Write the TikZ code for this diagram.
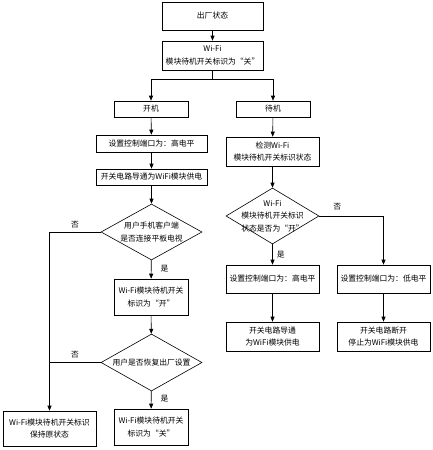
\documentclass[tikz,border=0pt]{standalone}
\usepackage{fontspec}
\setmainfont{Noto Sans CJK SC}
\usetikzlibrary{shapes.geometric,arrows.meta}
\begin{document}
\begin{tikzpicture}[x=1pt,y=-1pt,
  font=\fontsize{7.8pt}{12.5pt}\selectfont,
  box/.style={draw, line width=0.6pt, inner sep=1pt, align=center},
  dec/.style={draw, diamond, line width=0.6pt, inner sep=0pt, minimum width=#1},
  txt/.style={inner sep=0pt, align=center},
  arr/.style={-{Triangle[length=5pt,width=4pt]}, line width=0.6pt},
  ln/.style={line width=0.6pt},
  lab/.style={inner sep=0pt}]
\useasboundingbox (0,0) rectangle (433,450);
% left / top column
\node[box, minimum width=101pt, minimum height=28pt] (n1) at (212.5,16) {出厂状态};
\node[box, minimum width=101pt, minimum height=29pt] (n2) at (212.5,55.5) {Wi-Fi\\模块待机开关标识为“关”};
\node[box, minimum width=74pt, minimum height=16pt] (n3) at (151,109) {开机};
\node[box, minimum width=74pt, minimum height=16pt] (n4) at (273,109) {待机};
\node[box, minimum width=111pt, minimum height=17pt] (n5) at (151.5,143.5) {设置控制端口为：高电平};
\node[box, minimum width=111pt, minimum height=16pt] (n6) at (151.5,177) {开关电路导通为WiFi模块供电};
\node[dec=101pt, minimum height=56pt] (d1) at (151.5,232) {};
\node[txt] (t1) at (d1) {用户手机客户端\\是否连接平板电视};
\node[box, minimum width=74pt, minimum height=36pt] (n7) at (151,297) {Wi-Fi模块待机开关\\标识为“开”};
\node[dec=101pt, minimum height=57pt] (d2) at (151.5,362.5) {};
\node[txt] (t2) at (d2) {用户是否恢复出厂设置};
\node[box, minimum width=74pt, minimum height=36pt] (n8) at (151,427) {Wi-Fi模块待机开关\\标识为“关”};
\node[box, minimum width=93pt, minimum height=35pt] (n9) at (49.5,428.5) {Wi-Fi模块待机开关标识\\保持原状态};
% right column
\node[box, minimum width=93pt, minimum height=29pt] (n10) at (272.5,151.5) {检测Wi-Fi\\模块待机开关标识状态};
\node[dec=93pt, minimum height=56pt] (d3) at (272.5,216) {};
\node[txt] (t3) at (d3) {Wi-Fi\\模块待机开关标识\\状态是否为“开”};
\node[box, minimum width=93pt, minimum height=28pt] (n11) at (272.5,279) {设置控制端口为：高电平};
\node[box, minimum width=93pt, minimum height=28pt] (n12) at (383.5,279) {设置控制端口为：低电平};
\node[box, minimum width=93pt, minimum height=29pt] (n13) at (272.5,336.5) {开关电路导通\\为WiFi模块供电};
\node[box, minimum width=93pt, minimum height=29pt] (n14) at (383.5,336.5) {开关电路断开\\停止为WiFi模块供电};
% connectors
\draw[arr] (n1) -- (n2);
\draw[arr] (n2.south) -- ++(0,9) -| (n3.north);
\draw[arr] (n2.south) -- ++(0,9) -| (n4.north);
\draw[arr] (n3) -- (n5);
\draw[arr] (n5) -- (n6);
\draw[arr] (n6) -- (d1);
\draw[arr] (d1) -- node[lab, pos=0.45, right=9pt] {是} (n7);
\draw[arr] (n7) -- (d2);
\draw[arr] (d2) -- node[lab, pos=0.45, right=9pt] {是} (n8);
\draw[arr] (d1.west) -- node[lab, pos=0.5, above=4pt] {否} (d1.west -| n9.north) -- (n9.north);
\draw[ln] (d2.west) -- node[lab, pos=0.5, above=4pt] {否} (d2.west -| n9.north);
\draw[arr] (n4) -- (n10);
\draw[arr] (n10) -- (d3);
\draw[arr] (d3) -- node[lab, pos=0.5, right=4pt] {是} (n11);
\draw[arr] (d3.east) -- node[lab, pos=0.28, above=6pt] {否} (d3.east -| n12.north) -- (n12.north);
\draw[arr] (n11) -- (n13);
\draw[arr] (n12) -- (n14);
\end{tikzpicture}
\end{document}
